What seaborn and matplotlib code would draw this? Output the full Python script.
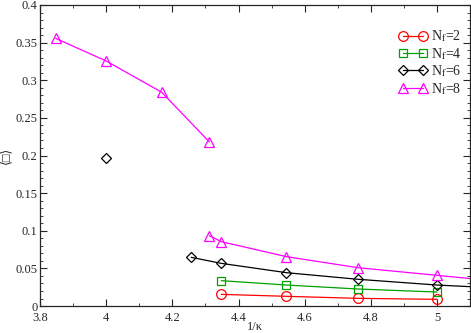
import numpy as np
import pandas as pd
import seaborn as sns
import matplotlib.pyplot as plt
from matplotlib.ticker import MultipleLocator

# N_f = 2
x_nf2 = [4.348, 4.545, 4.762, 5.0]
y_nf2 = [0.0155, 0.0129, 0.0102, 0.0089]
# N_f = 4
x_nf4 = [4.348, 4.545, 4.762, 5.0]
y_nf4 = [0.0337, 0.0279, 0.0226, 0.0186]
# N_f = 6 (isolated point + branch)
x_nf6_iso = [4.0]
y_nf6_iso = [0.1967]
x_nf6 = [4.257, 4.348, 4.545, 4.762, 5.0, 5.263]
y_nf6 = [0.0647, 0.0567, 0.0443, 0.0355, 0.0279, 0.0222]
# N_f = 8 (upper branch + lower branch)
x_nf8_hi = [3.847, 4.0, 4.168, 4.312]
y_nf8_hi = [0.3557, 0.3256, 0.284, 0.218]
x_nf8_lo = [4.312, 4.348, 4.545, 4.762, 5.0, 5.263]
y_nf8_lo = [0.0934, 0.0855, 0.0656, 0.0509, 0.0408, 0.0295]

sns.set_style("ticks")
plt.rcParams['font.family'] = ['Liberation Serif', 'DejaVu Serif', 'DejaVu Sans']
plt.rcParams['mathtext.fontset'] = 'stix'

fig = plt.figure(figsize=(4.71, 3.33), dpi=100)
ax = fig.add_axes([0.085, 0.081, 0.913, 0.904])

red, green, black, mag = '#ff0000', '#00a000', '#000000', '#ff00ff'
common = dict(markerfacecolor='none', markersize=7, markeredgewidth=0.9,
              linewidth=0.9, sort=False, ax=ax)

sns.lineplot(x=x_nf2, y=y_nf2, color=red, marker='o', markeredgecolor=red,
             label=r'N$_\mathrm{f}$=2', **common)
sns.lineplot(x=x_nf4, y=y_nf4, color=green, marker='s', markeredgecolor=green,
             label=r'N$_\mathrm{f}$=4', **dict(common, markersize=5.5))
sns.lineplot(x=x_nf6, y=y_nf6, color=black, marker='D', markeredgecolor=black,
             label=r'N$_\mathrm{f}$=6', **dict(common, markersize=5.5))
sns.lineplot(x=x_nf6_iso, y=y_nf6_iso, color=black, marker='D', markeredgecolor=black,
             **dict(common, markersize=5.5))
sns.lineplot(x=x_nf8_hi, y=y_nf8_hi, color=mag, marker='^', markeredgecolor=mag,
             label=r'N$_\mathrm{f}$=8', **common)
sns.lineplot(x=x_nf8_lo, y=y_nf8_lo, color=mag, marker='^', markeredgecolor=mag,
             **common)

ax.set_xlim(3.8, 5.1)
ax.set_ylim(0, 0.4)
ax.xaxis.set_minor_locator(MultipleLocator(0.1))
ax.yaxis.set_minor_locator(MultipleLocator(0.01))
ax.set_xticks([3.8, 4.0, 4.2, 4.4, 4.6, 4.8, 5.0])
ax.set_xticklabels(['3.8', '4', '4.2', '4.4', '4.6', '4.8', '5'])
ax.set_yticks([0, 0.05, 0.1, 0.15, 0.2, 0.25, 0.3, 0.35, 0.4])
ax.set_yticklabels(['0', '0.05', '0.1', '0.15', '0.2', '0.25', '0.3', '0.35', '0.4'])
ax.tick_params(which='both', direction='in', top=True, right=True, labelsize=9)
ax.tick_params(axis='x', pad=4.5)
ax.tick_params(axis='y', pad=2)
ax.tick_params(which='major', length=5)
ax.tick_params(which='minor', length=2.5)
for s in ax.spines.values():
    s.set_linewidth(0.9)

ax.set_xlabel('1/κ', fontsize=9, labelpad=-2)
ax.set_ylabel('⟨□⟩', fontsize=9, labelpad=2)

handles, labels = ax.get_legend_handles_labels()
ax.legend(handles, labels, loc='upper right', bbox_to_anchor=(1.0, 0.95),
          frameon=False, numpoints=2, handlelength=2.0, fontsize=10,
          labelspacing=0.12, handletextpad=0.3, borderaxespad=0.2)

fig.savefig('out.png', dpi=100)
